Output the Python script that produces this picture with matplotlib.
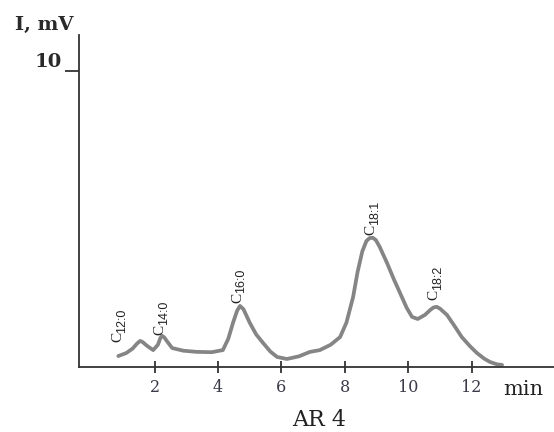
import numpy as np
import matplotlib.pyplot as plt

# chromatogram trace, retention time (min) vs signal (mV)
time_min = [0.85, 1.10, 1.30, 1.45, 1.54, 1.62, 1.75, 1.95, 2.10, 2.18,
            2.23, 2.30, 2.40, 2.55, 2.90, 3.33, 3.80, 4.15, 4.32, 4.47,
            4.60, 4.69, 4.80, 5.00, 5.20, 5.42, 5.65, 5.86, 6.17, 6.55,
            6.90, 7.21, 7.55, 7.85, 8.05, 8.26, 8.40, 8.55, 8.68, 8.78,
            8.88, 8.98, 9.10, 9.33, 9.55, 9.74, 9.95, 10.12, 10.30, 10.53,
            10.70, 10.80, 10.90, 11.00, 11.22, 11.45, 11.69, 11.95, 12.17, 12.40,
            12.58, 12.80, 12.96]
signal_mv = [0.37, 0.47, 0.62, 0.80, 0.88, 0.84, 0.72, 0.57, 0.75, 0.98,
             1.05, 1.00, 0.85, 0.64, 0.55, 0.51, 0.50, 0.57, 0.95, 1.49,
             1.90, 2.06, 1.95, 1.49, 1.10, 0.81, 0.52, 0.34, 0.27, 0.36,
             0.51, 0.57, 0.75, 1.01, 1.50, 2.36, 3.20, 3.90, 4.25, 4.35,
             4.36, 4.28, 4.05, 3.51, 2.95, 2.50, 2.00, 1.69, 1.62, 1.76,
             1.93, 2.01, 2.03, 1.97, 1.76, 1.40, 1.01, 0.70, 0.47, 0.28,
             0.17, 0.09, 0.07]

# fatty acid peaks: subscript, retention time, label base height
peak_names = ["12:0", "14:0", "16:0", "18:1", "18:2"]
peak_time = [0.88, 2.20, 4.66, 8.86, 10.86]
peak_base = [0.84, 1.08, 2.16, 4.46, 2.26]

x_ticks = [2, 4, 6, 8, 10, 12]
y_ticks = [10]

W, H = 554, 432
fig = plt.figure(figsize=(W / 100, H / 100), dpi=100)
ax = fig.add_axes([79 / W, 65 / H, (554 - 79) / W, (367 - 35) / H])

ax.plot(time_min, signal_mv, color="#858585", lw=2.7,
        solid_joinstyle="round", solid_capstyle="round")

# "C" plus a narrow subscript, both turned upright
narrow = ["Liberation Sans Narrow", "DejaVu Sans Condensed", "Liberation Sans"]
for name, t, v in zip(peak_names, peak_time, peak_base):
    ax.annotate("C", (t, v), xytext=(-1, 0), textcoords="offset points",
                rotation=90, ha="center", va="bottom", fontsize=11,
                family="Liberation Serif", color="#222222")
    ax.annotate(name, (t, v), xytext=(1.8, 6.9), textcoords="offset points",
                rotation=90, ha="center", va="bottom", fontsize=9,
                family=narrow, color="#222222")

ax.set_xlim(-0.39, 14.6)
ax.set_ylim(0, 11.2)

for s in ["top", "right"]:
    ax.spines[s].set_visible(False)
for s in ["left", "bottom"]:
    ax.spines[s].set_color("#333333")
    ax.spines[s].set_linewidth(1.3)

ax.set_xticks(x_ticks)
ax.set_xticklabels([str(t) for t in x_ticks], family="DejaVu Serif",
                   fontsize=11.5, color="#3a3a48")
ax.tick_params(axis="x", direction="inout", length=9, width=1.3,
               color="#333333", pad=4)
ax.set_yticks(y_ticks)
ax.set_yticklabels([])
ax.tick_params(axis="y", direction="out", length=10, width=1.3,
               color="#333333")

fig.text(62 / W, 1 - 67 / H, "10", ha="right", va="baseline", fontsize=14,
         family="DejaVu Serif", fontweight="bold", color="#2a2a2a")
fig.text(15 / W, 1 - 30 / H, "I, mV", ha="left", va="baseline",
         fontsize=14, family="DejaVu Serif", fontweight="bold",
         color="#2a2a2a")
fig.text(503 / W, 1 - 395 / H, "min", ha="left", va="baseline",
         fontsize=15, family="DejaVu Serif", color="#222222")
fig.text(319 / W, 1 - 426 / H, "AR 4", ha="center", va="baseline",
         fontsize=16, family="DejaVu Serif", color="#222222")

fig.savefig("out.png", dpi=100)
